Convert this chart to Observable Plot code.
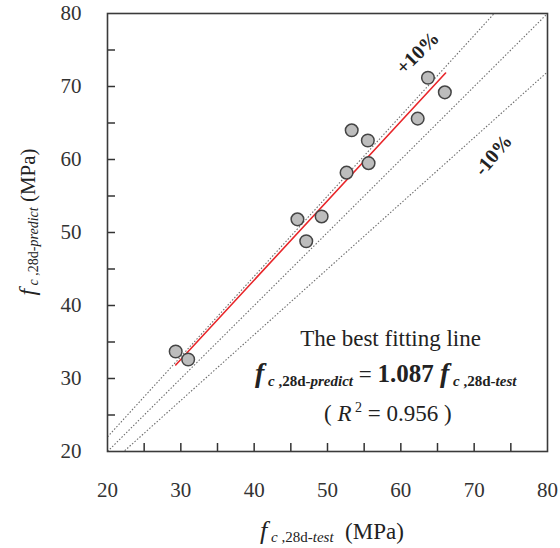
<!DOCTYPE html>
<html>
<head>
<meta charset="utf-8">
<script src="https://cdn.jsdelivr.net/npm/d3@7"></script>
<script src="https://cdn.jsdelivr.net/npm/@observablehq/plot@0.6"></script>
<style>
  html, body { margin: 0; padding: 0; background: #fff; }
</style>
</head>
<body>
<div id="chart"></div>
<script>
// Measured (test) vs predicted 28-day compressive strength, MPa
const testValues    = [29.3, 31.0, 45.9, 47.1, 49.2, 52.6, 53.3, 55.5, 55.6, 62.3, 63.7, 66.0];
const predictValues = [33.7, 32.6, 51.8, 48.8, 52.2, 58.2, 64.0, 62.6, 59.5, 65.6, 71.2, 69.2];
const xTickLabels = [20, 30, 40, 50, 60, 70, 80];
const yTickLabels = [20, 30, 40, 50, 60, 70, 80];
const minorTicks = [25, 30, 35, 40, 45, 50, 55, 60, 65, 70, 75];
const refSlopes = [1.1, 1.0, 0.9];
const fitSlope = 1.087;
const fitRange = [29.3, 66.1];
const bandLabels = [
  {text: "+10%", x: 62.3, y: 74.6, rotate: -45},
  {text: "-10%", x: 72.6, y: 60.6, rotate: -50}
];

const SERIF = "Liberation Serif";
const points = testValues.map((t, i) => ({test: t, predict: predictValues[i]}));
const fit = fitRange.map(x => ({x, y: fitSlope * x}));

const W = 560, H = 548, mL = 107, mR = 13, mT = 13, mB = 97;
const plotW = W - mL - mR, plotH = H - mT - mB;

const plot = Plot.plot({
  width: W, height: H,
  marginLeft: mL, marginRight: mR, marginTop: mT, marginBottom: mB,
  x: {domain: [20, 80]},
  y: {domain: [20, 80]},
  marks: [
    Plot.link(refSlopes, {
      x1: 20, y1: k => 20 * k, x2: 80, y2: k => 80 * k,
      clip: true, stroke: "#6e6e6e", strokeWidth: 1.1, strokeDasharray: "1.5,1.8"
    }),
    Plot.line(fit, {x: "x", y: "y", stroke: "#e8262a", strokeWidth: 1.6}),
    Plot.dot(points, {x: "test", y: "predict", r: 6.3, fill: "#bdbdbd", stroke: "#444", strokeWidth: 1.5}),
    Plot.ruleX(minorTicks, {insetTop: plotH - 8, stroke: "#333", strokeWidth: 1.5}),
    Plot.ruleY(minorTicks, {insetRight: plotW - 8, stroke: "#333", strokeWidth: 1.5}),
    Plot.frame({stroke: "#3a3a3a", strokeWidth: 1.6}),
    Plot.axisX(xTickLabels, {tickSize: 0, tickPadding: 31, fontSize: 21, fill: "#333", label: null, fontFamily: SERIF}),
    Plot.axisY(yTickLabels, {tickSize: 0, tickPadding: 26, fontSize: 21, fill: "#333", label: null, fontFamily: SERIF}),
    Plot.text(bandLabels, {x: "x", y: "y", text: "text", rotate: "rotate", fontSize: 20, fontWeight: "bold", fill: "#222", fontFamily: SERIF}),
    Plot.text(["The best fitting line"], {x: 58.6, y: 35.4, text: d => d, fontSize: 23, fill: "#222", fontFamily: SERIF})
  ]
});

document.getElementById("chart").appendChild(plot);

const svg = d3.select(plot);
svg.attr("font-family", SERIF);
const sx = plot.scale("x"), sy = plot.scale("y");

function addRich(g, parts) {
  g.attr("font-family", SERIF);
  parts.forEach(p => {
    const t = g.append("tspan").text(p.t);
    if (p.size) t.attr("font-size", p.size);
    if (p.b) t.attr("font-weight", "bold");
    if (p.i) t.attr("font-style", "italic");
    if (p.dy) t.attr("dy", p.dy);
  });
}

// formula
const f1 = svg.append("text")
  .attr("x", sx.apply(58.0)).attr("y", sy.apply(29.5))
  .attr("text-anchor", "middle").attr("fill", "#222").attr("font-size", 23);
addRich(f1, [
  {t: "f", size: 28, b: true, i: true},
  {t: " c", size: 15, b: true, i: true, dy: 4},
  {t: " ,28d-", size: 15, b: true},
  {t: "predict", size: 15, b: true, i: true},
  {t: " = ", size: 23, dy: -4},
  {t: "1.087 ", size: 25, b: true},
  {t: "f", size: 28, b: true, i: true},
  {t: " c", size: 15, b: true, i: true, dy: 4},
  {t: " ,28d-", size: 15, b: true},
  {t: "test", size: 15, b: true, i: true}
]);

// R^2
const f2 = svg.append("text")
  .attr("x", sx.apply(58.3)).attr("y", sy.apply(24.1))
  .attr("text-anchor", "middle").attr("fill", "#222").attr("font-size", 23);
addRich(f2, [
  {t: "( "},
  {t: "R", i: true},
  {t: " 2", size: 14, dy: -9},
  {t: " = 0.956 )", dy: 9}
]);

// x label
const xl = svg.append("text")
  .attr("x", 332).attr("y", 539)
  .attr("text-anchor", "middle").attr("fill", "#222").attr("font-size", 23);
addRich(xl, [
  {t: "f", size: 26, i: true},
  {t: " c", size: 15, i: true, dy: 3},
  {t: " ,28d-", size: 15},
  {t: "test", size: 15, i: true},
  {t: "  (MPa)", size: 23, dy: -3}
]);

// y label
const yl = svg.append("text")
  .attr("transform", "translate(35,222) rotate(-90)")
  .attr("text-anchor", "middle").attr("fill", "#222").attr("font-size", 21);
addRich(yl, [
  {t: "f", size: 24, i: true},
  {t: " c", size: 14, i: true, dy: 3},
  {t: " ,28d-", size: 14},
  {t: "predict", size: 14, i: true},
  {t: " (MPa)", size: 21, dy: -3}
]);
</script>
</body>
</html>
